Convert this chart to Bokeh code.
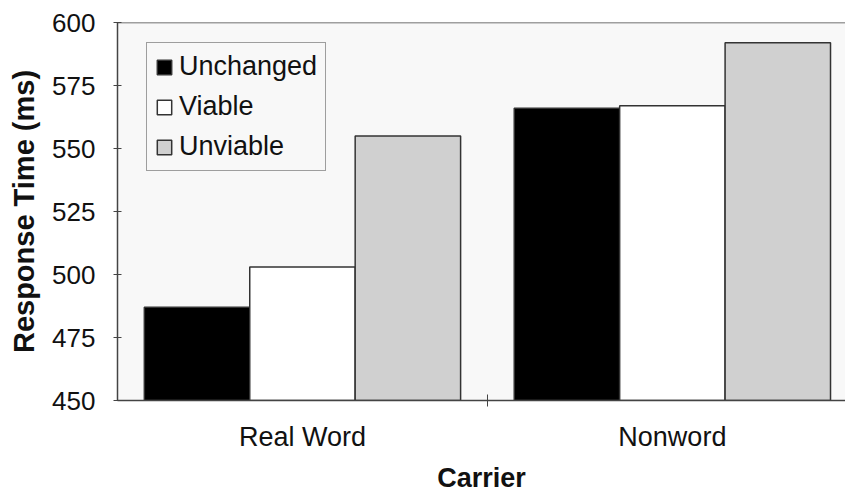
from bokeh.plotting import figure
from bokeh.models import Range1d, FixedTicker, Legend, LegendItem, Span
from bokeh.embed import file_html
from bokeh.resources import INLINE

categories = ["Real Word", "Nonword"]
series = ["Unchanged", "Viable", "Unviable"]
unchanged = [487, 566]
viable = [503, 567]
unviable = [555, 592]
y_ticks = [450, 475, 500, 525, 550, 575, 600]

colors = ["#000000", "#ffffff", "#d0d0d0"]
values = [unchanged, viable, unviable]

p = figure(width=845, height=496, output_backend="svg", toolbar_location=None,
           x_range=Range1d(0, 1.968), y_range=Range1d(450, 600),
           min_border_left=117, min_border_right=0, min_border_top=22,
           min_border_bottom=96)
p.background_fill_color = "#f8f8f8"
p.border_fill_color = "#ffffff"
p.outline_line_color = None
p.grid.visible = False

centers = [0.5 + i for i in range(len(categories))]
bw = 0.285
offsets = [-bw, 0, bw]
renderers = []
for s, vals, c, off in zip(series, values, colors, offsets):
    r = p.vbar(x=[cx + off for cx in centers], top=vals, bottom=450, width=bw,
               fill_color=c, line_color="#333333", line_width=1.5)
    renderers.append((s, r))

# top frame line
p.add_layout(Span(location=600, dimension="width", line_color="#444444", line_width=1.5))

# y axis
ya = p.yaxis[0]
ya.ticker = FixedTicker(ticks=y_ticks)
ya.axis_label = "Response Time (ms)"
ya.axis_label_text_font = "Liberation Sans"
ya.axis_label_text_font_style = "bold"
ya.axis_label_text_font_size = "29px"
ya.axis_label_text_color = "#111111"
ya.axis_label_standoff = 9
ya.major_label_text_font = "Liberation Sans"
ya.major_label_text_font_size = "26px"
ya.major_label_text_color = "#111111"
ya.major_label_standoff = 18
ya.major_tick_in = 4
ya.major_tick_out = 4
ya.minor_tick_line_color = None
ya.axis_line_color = "#444444"
ya.axis_line_width = 1.5
ya.major_tick_line_color = "#444444"

# x axis
xa = p.xaxis[0]
xa.ticker = FixedTicker(ticks=centers, minor_ticks=[1.0])
xa.major_label_overrides = {c: lab for c, lab in zip(centers, categories)}
xa.axis_label = "Carrier"
xa.axis_label_text_font = "Liberation Sans"
xa.axis_label_text_font_style = "bold"
xa.axis_label_text_font_size = "27px"
xa.axis_label_text_color = "#111111"
xa.axis_label_standoff = 8
xa.major_label_text_font = "Liberation Sans"
xa.major_label_text_font_size = "27px"
xa.major_label_text_color = "#111111"
xa.major_label_standoff = 15
xa.major_tick_in = 0
xa.major_tick_out = 0
xa.minor_tick_in = 6
xa.minor_tick_out = 6
xa.minor_tick_line_color = "#444444"
xa.axis_line_color = "#444444"
xa.axis_line_width = 1.5

legend = Legend(items=[LegendItem(label=s, renderers=[r]) for s, r in renderers],
                location=(29, 229))
legend.label_text_font = "Liberation Sans"
legend.label_text_font_size = "27px"
legend.label_text_color = "#111111"
legend.glyph_width = 18
legend.glyph_height = 18
legend.label_standoff = 6
legend.spacing = 9
legend.padding = 8
legend.margin = 0
legend.border_line_color = "#444444"
legend.border_line_width = 1.5
legend.background_fill_color = "#f8f8f8"
legend.background_fill_alpha = 1.0
p.add_layout(legend, "center")

open("out.html", "w").write(file_html(p, INLINE))
